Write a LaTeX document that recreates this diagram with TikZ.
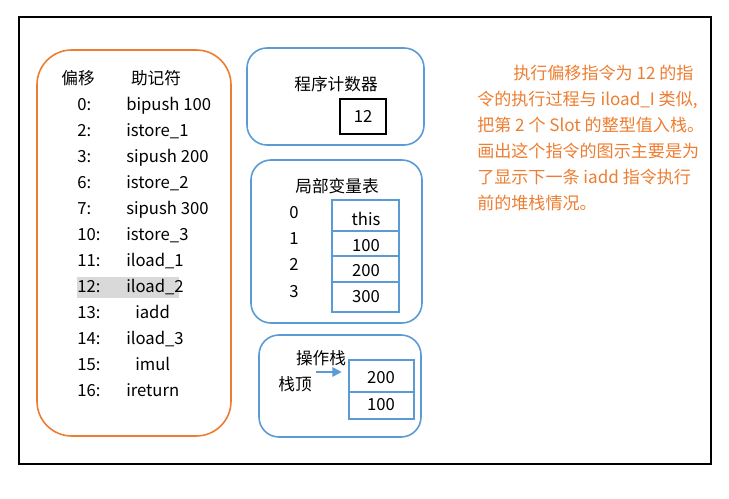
\documentclass[tikz,border=0pt]{standalone}
\usepackage{fontspec}
\setmainfont{Noto Sans CJK SC}
\usetikzlibrary{arrows.meta, positioning}
\definecolor{boxorange}{HTML}{ED7D31}
\definecolor{boxblue}{HTML}{5B9BD5}
\definecolor{hlgray}{HTML}{D9D9D9}

\begin{document}
\begin{tikzpicture}[
	x=0.75pt,
	y=-0.75pt,
	panel/.style 2 args={draw=#1, line width=1.2pt, rounded corners=#2},
	txt/.style={font=\fontsize{12.5}{15}\selectfont, inner sep=0pt, text height=10pt, text depth=2pt},
	lft/.style={txt, anchor=west},
	note/.style={font=\fontsize{12.8}{19.5}\selectfont, text=boxorange, align=left, anchor=north west, inner sep=0pt},
	tblline/.style={draw=boxblue, line width=1pt},
	pointer/.style={-{Triangle[length=7pt, width=7pt]}, draw=boxblue, fill=boxblue, line width=1.5pt}
]

\useasboundingbox (0,0) rectangle (729,499);

\def\rowgap{26}

% frame
\draw[line width=1.5pt] (19,17) rectangle (711,464);

% bytecode list
\draw[panel={boxorange}{26pt}] (37,50) rectangle (231,436);
\fill[hlgray] (77,277) rectangle (179,298);
\node[txt] (hoff) at (78,79) {偏移};
\node[txt] (hmn) at (156,79) {助记符};
\foreach \off/\mn/\dx [count=\i] in {0:/bipush 100/0, 2:/istore\_1/0, 3:/sipush 200/0, 6:/istore\_2/0, 7:/sipush 300/0, 10:/istore\_3/0, 11:/iload\_1/0, 12:/iload\_2/0, 13:/iadd/9, 14:/iload\_3/0, 15:/imul/9, 16:/ireturn/0} {
	\node[lft] (off\i) at (77, 79+\i*\rowgap) {\off};
	\node[lft] (mn\i) at (126+\dx, 79+\i*\rowgap) {\mn};
}

% program counter
\draw[panel={boxblue}{15pt}] (247,48) rectangle (424,145);
\node[txt] (pctitle) at (336,85) {程序计数器};
\draw[line width=0.8pt] (340,99) rectangle (386,134);
\node[txt] (pcval) at (363,117) {12};

% local variables
\draw[panel={boxblue}{15pt}] (251,160) rectangle (422,323);
\node[txt] (lvtitle) at (337,187) {局部变量表};
\draw[tblline] (332,200) rectangle (399,312);
\foreach \y in {231, 256, 282} {
	\draw[tblline] (332,\y) -- (399,\y);
}
\foreach \idx/\val/\y in {0/this/0, 1/100/1, 2/200/2, 3/300/3} {
	\node[txt] (lvidx\idx) at (294, 213+\y*26.3) {\idx};
	\node[txt] (lvval\idx) at (366, 220+\y*25.7) {\val};
}

% operand stack
\draw[panel={boxblue}{15pt}] (259,335) rectangle (421,437);
\node[txt] (sttitle) at (321,359) {操作栈};
\node[txt] (sttop) at (295,385) {栈顶};
\node[draw=boxblue, line width=1pt, inner sep=0pt, minimum width=48.75pt, minimum height=44.25pt] (stk) at (381.5,389.5) {};
\draw[tblline] (stk.west |- 0,392) -- (stk.east |- 0,392);
\node[txt] (st200) at (381,378) {200};
\node[txt] (st100) at (381,405) {100};
\coordinate (toparrow) at (316,372);
\draw[pointer] (toparrow) -- ([xshift=-5pt]toparrow -| stk.west);

% note
\node[note] (remark) at (477,65) {\hspace*{27pt}执行偏移指令为 12 的指\\
令的执行过程与 iload\_I 类似,\\
把第 2 个 Slot 的整型值入栈。\\
画出这个指令的图示主要是为\\
了显示下一条 iadd 指令执行\\
前的堆栈情况。};

\end{tikzpicture}
\end{document}
